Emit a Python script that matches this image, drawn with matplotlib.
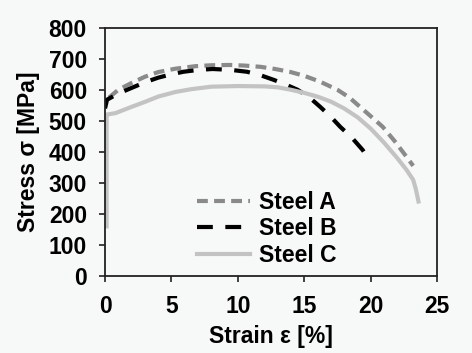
import matplotlib
matplotlib.use("Agg")
import matplotlib.pyplot as plt

# strain [%] and stress [MPa]
strain_a = [0.3, 1.0, 2.0, 3.0, 4.0, 5.3, 6.8, 8.0, 9.4, 10.5, 11.7, 12.8, 13.9, 15.0, 16.2, 17.5, 18.4, 19.2, 20.0, 20.9, 21.8, 22.7, 23.2]
stress_a = [575, 600, 622, 642, 657, 668, 676, 679, 680, 678, 674, 667, 658, 645, 626, 600, 575, 545, 515, 481, 435, 384, 355]

strain_b = [0.0, 0.15, 1.0, 2.0, 3.0, 4.0, 5.0, 5.9, 7.0, 8.1, 9.5, 10.7, 11.7, 12.7, 13.6, 14.5, 15.4, 16.2, 17.0, 17.7, 18.6, 19.4, 19.8]
stress_b = [540, 568, 588, 606, 624, 639, 650, 658, 664, 667, 664, 658, 647, 632, 617, 600, 575, 545, 513, 481, 445, 406, 380]

strain_c = [0.12, 0.12, 0.8, 2.0, 3.0, 4.0, 5.3, 6.5, 8.0, 10.0, 12.0, 13.0, 14.0, 15.0, 16.0, 17.0, 18.0, 19.0, 20.0, 21.0, 22.0, 22.7, 23.2, 23.4, 23.6]
stress_c = [160, 520, 525, 545, 561, 578, 593, 602, 610, 612, 611, 608, 600, 590, 578, 562, 540, 512, 475, 430, 380, 342, 310, 280, 240]

labels = ["Steel A", "Steel B", "Steel C"]
x_ticks = [0, 5, 10, 15, 20, 25]
y_ticks = [0, 100, 200, 300, 400, 500, 600, 700, 800]

bg = "#f6f9f8"
plt.rcParams["font.family"] = ["Liberation Sans", "DejaVu Sans"]
plt.rcParams["font.weight"] = "bold"

fig = plt.figure(figsize=(4.72, 3.53), dpi=100, facecolor=bg)
ax = fig.add_axes([0.2225, 0.2181, 0.7035, 0.7034], facecolor=bg)

ax.plot(strain_a, stress_a, color="#8a8a8a", lw=3.0, dashes=(2.6, 1.5), label=labels[0])
ax.plot(strain_b, stress_b, color="#000000", lw=3.0, dashes=(3.8, 3.0), label=labels[1])
ax.plot(strain_c, stress_c, color="#c3c3c3", lw=3.0, label=labels[2])

ax.set_xlim(0, 25)
ax.set_ylim(0, 800)
ax.set_xticks(x_ticks)
ax.set_yticks(y_ticks)
ax.tick_params(direction="out", length=4, width=1.2, labelsize=16.5, color="#222222")
ax.tick_params(axis="x", pad=10)
ax.tick_params(axis="y", pad=9)
for lab in ax.get_xticklabels() + ax.get_yticklabels():
    lab.set_fontweight("bold")
for s in ax.spines.values():
    s.set_linewidth(1.3)
    s.set_color("#222222")

ax.set_xlabel("Strain ε [%]", fontsize=16.5, fontweight="bold", labelpad=5)
ax.set_ylabel("Stress σ [MPa]", fontsize=16.5, fontweight="bold", labelpad=6)

leg = ax.legend(loc="lower left", bbox_to_anchor=(0.277, 0.035), frameon=False,
                fontsize=16.5, handlelength=2.3, handletextpad=0.4, labelspacing=0.17,
                borderaxespad=0, borderpad=0)
for t in leg.get_texts():
    t.set_fontweight("bold")

fig.savefig("out.png", dpi=100, facecolor=bg)
